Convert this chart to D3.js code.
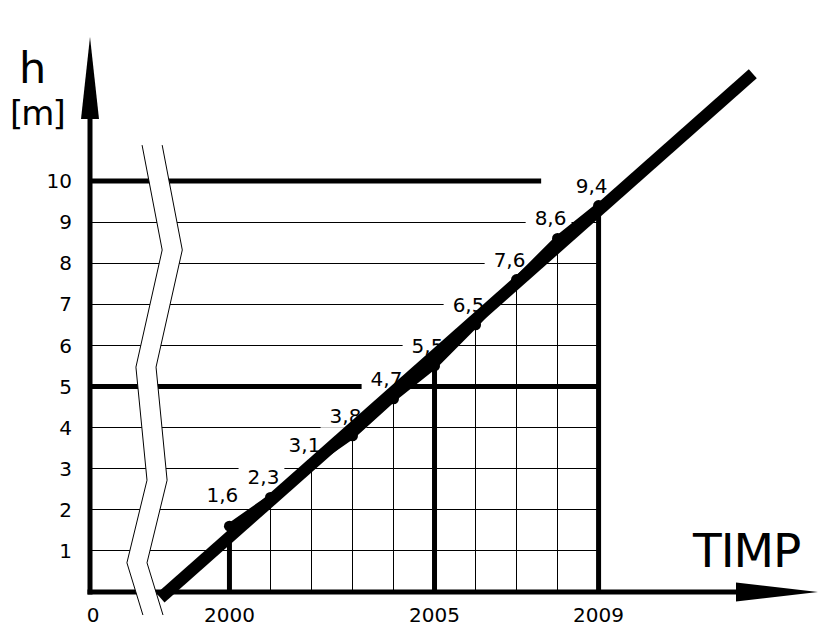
<!DOCTYPE html>
<html>
<head>
<meta charset="utf-8">
<script src="https://cdnjs.cloudflare.com/ajax/libs/d3/7.8.5/d3.min.js"></script>
<style>
    body { margin: 0; background: #fff; }
    svg { display: block; }
    text { font-family: "DejaVu Sans", Verdana, sans-serif; fill: #000; }
</style>
</head>
<body>
<svg width="834" height="639"></svg>
<script>
// values
var years = [2000, 2001, 2002, 2003, 2004, 2005, 2006, 2007, 2008, 2009];
var heights = [1.6, 2.3, 3.1, 3.8, 4.7, 5.5, 6.5, 7.6, 8.6, 9.4];
var yTicks = [1, 2, 3, 4, 5, 6, 7, 8, 9, 10];
var xTickYears = [2000, 2005, 2009];
var thickYears = [2000, 2005, 2009];
var thickLevels = [5, 10];
var thickLevelEnds = [2009, 2007.6];
var trendYears = [1998.32, 2012.76];
// axis break (year, h)
var breakPath = [[1997.87, 10.87], [1998.36, 8.32], [1997.72, 5.47], [1997.99, 2.72], [1997.50, 0.71], [1997.89, -0.56]];
var breakWidth = 0.49;

(function () {
    var svg = d3.select("svg"),
        margin = {top: 37, left: 90},
        width = 728,
        height = 555,
        g = svg.append("g").attr("transform", "translate(" + margin.left + "," + margin.top + ")");

    var x = d3.scaleLinear().domain([1996.6, 2014.35]).range([0, width]),
        y = d3.scaleLinear().domain([0, 13.5]).range([height, 0]);

    var x0 = x.domain()[0];
    var pts = years.map(function (d, i) { return {year: d, h: heights[i]}; });

    function hline(sel, level, toYear, w) {
        sel.append("line")
            .attr("x1", x(x0)).attr("x2", x(toYear))
            .attr("y1", y(level)).attr("y2", y(level))
            .attr("stroke", "#000").attr("stroke-width", w);
    }

    ////////////////////////////////////////////////////////////////////////////
    // grid
    var grid = g.append("g").attr("shape-rendering", "crispEdges");
    yTicks.forEach(function (t) {
        if (thickLevels.indexOf(t) < 0) { hline(grid, t, 2009, 1); }
    });
    pts.forEach(function (p) {
        if (thickYears.indexOf(p.year) < 0) {
            grid.append("line")
                .attr("x1", x(p.year)).attr("x2", x(p.year))
                .attr("y1", y(0)).attr("y2", y(p.h))
                .attr("stroke", "#000").attr("stroke-width", 1);
        }
    });

    var thick = g.append("g");
    thickLevels.forEach(function (t, i) { hline(thick, t, thickLevelEnds[i], 5); });
    pts.forEach(function (p) {
        if (thickYears.indexOf(p.year) >= 0) {
            thick.append("line")
                .attr("x1", x(p.year)).attr("x2", x(p.year))
                .attr("y1", y(0)).attr("y2", y(p.h))
                .attr("stroke", "#000").attr("stroke-width", 5);
        }
    });

    ////////////////////////////////////////////////////////////////////////////
    // axes with arrows
    var axes = g.append("g");
    axes.append("line")
        .attr("x1", x(x0)).attr("x2", x(x0))
        .attr("y1", y(0) + 2.5).attr("y2", 80)
        .attr("stroke", "#000").attr("stroke-width", 5);
    axes.append("path")
        .attr("d", "M" + x(x0) + ",0L" + (x(x0) - 9) + ",82L" + (x(x0) + 9) + ",82Z")
        .attr("fill", "#000");
    axes.append("line")
        .attr("x1", x(x0) - 2.5).attr("x2", width - 80)
        .attr("y1", y(0)).attr("y2", y(0))
        .attr("stroke", "#000").attr("stroke-width", 5);
    axes.append("path")
        .attr("d", "M" + width + "," + y(0) + "L" + (width - 82) + "," + (y(0) - 9.5) + "L" + (width - 82) + "," + (y(0) + 9.5) + "Z")
        .attr("fill", "#000");

    // tick labels
    g.append("g").selectAll("text").data(yTicks).enter().append("text")
        .attr("x", x(x0) - 18)
        .attr("y", function (d) { return y(d); })
        .attr("dy", "0.36em")
        .attr("text-anchor", "end")
        .style("font-size", "20px")
        .text(function (d) { return d; });

    g.append("g").selectAll("text").data([0].concat(xTickYears)).enter().append("text")
        .attr("x", function (d) { return d === 0 ? x(x0) + 3 : x(d); })
        .attr("y", y(0) + 30)
        .attr("text-anchor", "middle")
        .style("font-size", "20px")
        .text(function (d) { return d; });

    svg.append("text").attr("x", 19).attr("y", 83).style("font-size", "43px").text("h");
    svg.append("text").attr("x", 10).attr("y", 125).style("font-size", "34px")
        .style("letter-spacing", "-2px").text("[m]");
    svg.append("text").attr("x", 693).attr("y", 567).style("font-size", "47px")
        .style("letter-spacing", "-1px").text("TIMP");

    ////////////////////////////////////////////////////////////////////////////
    // axis break
    var left = breakPath.map(function (d) { return [x(d[0]), y(d[1])]; });
    var right = breakPath.map(function (d) { return [x(d[0] + breakWidth), y(d[1])]; });
    var line = d3.line();
    g.append("path")
        .attr("d", line(left.concat(right.slice().reverse())) + "Z")
        .attr("fill", "#fff");
    [left, right].forEach(function (l) {
        g.append("path").attr("d", line(l))
            .attr("fill", "none").attr("stroke", "#000").attr("stroke-width", 1);
    });

    ////////////////////////////////////////////////////////////////////////////
    // value labels
    var labels = g.append("g").selectAll("g").data(pts).enter().append("g");
    labels.append("rect").attr("fill", "#fff");
    labels.append("text")
        .attr("x", function (d) { return x(d.year) - 7; })
        .attr("y", function (d, i) { return y(d.h) - (i === 0 ? 24 : 13); })
        .attr("text-anchor", "middle")
        .style("font-size", "20px")
        .text(function (d) { return String(d.h).replace(".", ","); });
    labels.each(function () {
        var b = d3.select(this).select("text").node().getBBox();
        d3.select(this).select("rect")
            .attr("x", b.x - 9).attr("y", b.y + 2)
            .attr("width", b.width + 14).attr("height", b.height - 2);
    });

    // data line and points
    var dataLine = d3.line()
        .x(function (d) { return x(d.year); })
        .y(function (d) { return y(d.h); });
    g.append("path").datum(pts)
        .attr("d", dataLine)
        .attr("fill", "none").attr("stroke", "#000").attr("stroke-width", 6);
    g.append("g").selectAll("circle").data(pts).enter().append("circle")
        .attr("cx", function (d) { return x(d.year); })
        .attr("cy", function (d) { return y(d.h); })
        .attr("r", 5.5)
        .attr("fill", "#000");

    // trend (least squares through the points)
    var mx = d3.mean(years), my = d3.mean(heights);
    var slope = d3.sum(years, function (d, i) { return (d - mx) * (heights[i] - my); }) /
        d3.sum(years, function (d) { return (d - mx) * (d - mx); });
    var trend = trendYears.map(function (t) { return {year: t, h: my + slope * (t - mx)}; });
    g.append("path").datum(trend)
        .attr("d", dataLine)
        .attr("fill", "none").attr("stroke", "#000").attr("stroke-width", 12);
})();
</script>
</body>
</html>
